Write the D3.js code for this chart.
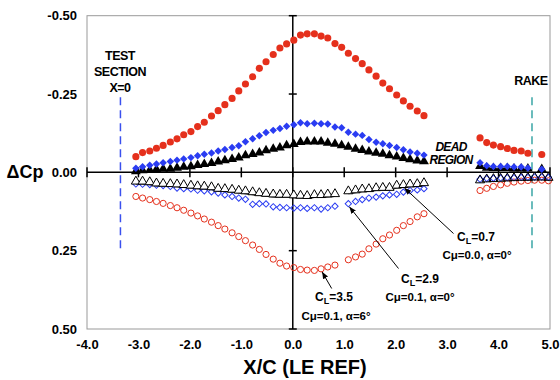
<!DOCTYPE html>
<html>
<head>
<meta charset="utf-8">
<script src="https://cdn.jsdelivr.net/npm/d3@7/dist/d3.min.js"></script>
<style>
  body { margin: 0; background: #fff; }
  text { font-family: "Liberation Sans", Arial, sans-serif; font-weight: bold; fill: #000; }
</style>
</head>
<body>
<div id="chart"></div>
<script>
// x stations (X/C, LE ref)
var xUpper = [-3.05, -2.92, -2.78, -2.65, -2.52, -2.38, -2.25, -2.12, -1.98, -1.85, -1.72, -1.58, -1.45, -1.32, -1.18, -1.05, -0.92, -0.78, -0.65, -0.52, -0.38, -0.25, -0.12, 0.02, 0.15, 0.28, 0.42, 0.55, 0.68, 0.82, 0.95, 1.08, 1.22, 1.35, 1.48, 1.62, 1.75, 1.88, 2.02, 2.15, 2.28, 2.42, 2.55];
var xLowerA = [-3.05, -2.92, -2.78, -2.65, -2.52, -2.38, -2.25, -2.12, -1.98, -1.85, -1.72, -1.58, -1.45, -1.32, -1.18, -1.05, -0.92, -0.78, -0.65, -0.52, -0.38, -0.25, -0.12, 0.02, 0.15, 0.28, 0.42, 0.55, 0.68, 0.82];
var xLowerB = [1.08, 1.22, 1.35, 1.48, 1.62, 1.75, 1.88, 2.02, 2.15, 2.28, 2.42, 2.55];
var xRakeUpper = [3.64, 3.77, 3.90, 4.04, 4.17, 4.30, 4.44, 4.57, 4.84];
var xRakeLower = [3.64, 3.77, 3.90, 4.04, 4.17, 4.30, 4.44, 4.57, 4.70, 4.84, 4.97];

// CL=3.5 (red)
var redUpper = [-0.050, -0.063, -0.068, -0.077, -0.086, -0.097, -0.107, -0.120, -0.130, -0.146, -0.160, -0.180, -0.197, -0.216, -0.236, -0.260, -0.282, -0.305, -0.332, -0.353, -0.376, -0.397, -0.410, -0.422, -0.438, -0.442, -0.442, -0.435, -0.429, -0.411, -0.399, -0.380, -0.363, -0.347, -0.327, -0.307, -0.285, -0.267, -0.247, -0.228, -0.211, -0.196, -0.181];
var redLowerA = [0.077, 0.082, 0.087, 0.093, 0.099, 0.106, 0.113, 0.121, 0.130, 0.139, 0.149, 0.159, 0.170, 0.181, 0.193, 0.205, 0.218, 0.232, 0.246, 0.262, 0.277, 0.290, 0.299, 0.304, 0.310, 0.312, 0.313, 0.308, 0.302, 0.296];
var redLowerB = [0.279, 0.270, 0.261, 0.244, 0.229, 0.212, 0.200, 0.185, 0.170, 0.157, 0.142, 0.132];
var redRakeUpper = [-0.110, -0.095, -0.087, -0.082, -0.076, -0.070, -0.068, -0.061, -0.057];
var redRakeLower = [0.058, 0.051, 0.045, 0.040, 0.035, 0.031, 0.028, 0.026, 0.025, 0.025, 0.027];

// CL=2.9 (blue)
var blueUpper = [-0.013, -0.018, -0.023, -0.027, -0.031, -0.035, -0.039, -0.043, -0.047, -0.053, -0.058, -0.062, -0.068, -0.073, -0.079, -0.085, -0.098, -0.107, -0.117, -0.127, -0.134, -0.140, -0.147, -0.152, -0.158, -0.155, -0.157, -0.155, -0.154, -0.145, -0.142, -0.128, -0.122, -0.118, -0.105, -0.096, -0.091, -0.086, -0.079, -0.072, -0.065, -0.061, -0.055];
var blueLowerA = [0.037, 0.038, 0.039, 0.041, 0.042, 0.045, 0.050, 0.052, 0.053, 0.057, 0.059, 0.062, 0.066, 0.072, 0.077, 0.082, 0.086, 0.102, 0.100, 0.101, 0.110, 0.112, 0.113, 0.114, 0.113, 0.115, 0.113, 0.117, 0.113, 0.108];
var blueLowerB = [0.100, 0.093, 0.087, 0.082, 0.079, 0.075, 0.072, 0.070, 0.063, 0.058, 0.056, 0.052];
var blueRakeUpper = [-0.031, -0.021, -0.019, -0.019, -0.019, -0.017, -0.017, -0.014, -0.010];
var blueRakeLower = [0.022, 0.020, 0.019, 0.018, 0.017, 0.017, 0.016, 0.016, 0.015, 0.015, 0.016];

// CL=0.7 (black)
var blackUpper = [-0.003, -0.006, -0.007, -0.009, -0.011, -0.011, -0.014, -0.017, -0.019, -0.023, -0.026, -0.029, -0.034, -0.038, -0.042, -0.047, -0.054, -0.058, -0.063, -0.070, -0.075, -0.079, -0.086, -0.090, -0.096, -0.098, -0.098, -0.098, -0.094, -0.091, -0.086, -0.081, -0.075, -0.071, -0.066, -0.062, -0.059, -0.054, -0.050, -0.045, -0.041, -0.037, -0.035];
var blackLowerA = [0.029, 0.029, 0.031, 0.035, 0.036, 0.037, 0.038, 0.040, 0.042, 0.044, 0.045, 0.047, 0.052, 0.053, 0.055, 0.058, 0.060, 0.063, 0.066, 0.068, 0.070, 0.071, 0.071, 0.073, 0.074, 0.075, 0.072, 0.072, 0.070, 0.069];
var blackLowerB = [0.060, 0.057, 0.054, 0.053, 0.050, 0.049, 0.049, 0.042, 0.040, 0.038, 0.037, 0.034];
var blackRakeUpper = [-0.020, -0.014, -0.013, -0.013, -0.013, -0.012, -0.012, -0.012, -0.010];
var blackRakeLower = [0.025, 0.022, 0.021, 0.020, 0.019, 0.018, 0.017, 0.017, 0.016, 0.016, 0.017];

var xTicks = [-4, -3, -2, -1, 0, 1, 2, 3, 4, 5];
var yTicks = [-0.5, -0.25, 0, 0.25, 0.5];
var testSectionX = -3.35, rakeX = 4.65;

var RED = "#e5301c", BLUE = "#2a3cf2";

var dim = { width: 560, height: 380, left: 87, top: 15.7, right: 550, bottom: 329 };

var x = d3.scaleLinear().domain([-4, 5]).range([dim.left, dim.right]);
var y = d3.scaleLinear().domain([-0.5, 0.5]).range([dim.top, dim.bottom]);

var svg = d3.select("#chart").append("svg")
    .attr("width", dim.width)
    .attr("height", dim.height);

// frame
svg.append("rect")
    .attr("x", dim.left).attr("y", dim.top)
    .attr("width", dim.right - dim.left).attr("height", dim.bottom - dim.top)
    .attr("fill", "none").attr("stroke", "#999").attr("stroke-width", 1);

// plain hyphen for negatives, like the original
function fmt(spec) {
  var f = d3.format(spec);
  return function(d) { return f(d).replace("\u2212", "-"); };
}

// tick labels, outside the frame
var yAxis = d3.axisLeft(y).tickValues(yTicks).tickSize(0).tickPadding(10).tickFormat(fmt(".2f"));
svg.append("g")
    .attr("transform", "translate(" + dim.left + ",0)")
    .call(yAxis)
    .call(function(g) { g.select(".domain").remove(); })
    .selectAll("text")
    .style("font-size", "13px").style("font-family", "Liberation Sans, Arial, sans-serif").style("font-weight", "bold");

var xAxis = d3.axisBottom(x).tickValues(xTicks).tickSize(0).tickPadding(11).tickFormat(fmt(".1f"));
svg.append("g")
    .attr("transform", "translate(0," + dim.bottom + ")")
    .call(xAxis)
    .call(function(g) { g.select(".domain").remove(); })
    .selectAll("text")
    .style("font-size", "13px").style("font-family", "Liberation Sans, Arial, sans-serif").style("font-weight", "bold");

// zero axes with cross ticks
svg.append("line")
    .attr("x1", dim.left).attr("x2", dim.right)
    .attr("y1", y(0)).attr("y2", y(0))
    .attr("stroke", "#000").attr("stroke-width", 1.5);
svg.append("line")
    .attr("x1", x(0)).attr("x2", x(0))
    .attr("y1", dim.top).attr("y2", dim.bottom)
    .attr("stroke", "#000").attr("stroke-width", 1.5);
svg.append("g").selectAll("line").data(xTicks).enter().append("line")
    .attr("x1", function(d) { return x(d); }).attr("x2", function(d) { return x(d); })
    .attr("y1", y(0) - 5).attr("y2", y(0) + 5)
    .attr("stroke", "#000").attr("stroke-width", 1.5);
svg.append("g").selectAll("line").data(yTicks.filter(function(d) { return d !== 0; })).enter().append("line")
    .attr("x1", x(0) - 4).attr("x2", x(0) + 4)
    .attr("y1", function(d) { return y(d); }).attr("y2", function(d) { return y(d); })
    .attr("stroke", "#000").attr("stroke-width", 1.5);

// test section and rake markers
svg.append("line")
    .attr("x1", x(testSectionX)).attr("x2", x(testSectionX))
    .attr("y1", y(-0.24)).attr("y2", y(0.25))
    .attr("stroke", "#3a50ee").attr("stroke-width", 1.5).attr("stroke-dasharray", "8,5");
svg.append("line")
    .attr("x1", x(rakeX)).attr("x2", x(rakeX))
    .attr("y1", y(-0.24)).attr("y2", y(0.25))
    .attr("stroke", "#3aa6a6").attr("stroke-width", 1.5).attr("stroke-dasharray", "8,5");

function zip(xs, ys) { return xs.map(function(v, i) { return [v, ys[i]]; }); }

// line under the open triangles
var line = d3.line().x(function(d) { return x(d[0]); }).y(function(d) { return y(d[1]) + 2.5; });
[zip(xLowerA, blackLowerA), zip(xLowerB, blackLowerB)].forEach(function(seg) {
  svg.append("path").datum(seg)
      .attr("d", line).attr("fill", "none").attr("stroke", "#000").attr("stroke-width", 1.2);
});

var series = [
  { x: xLowerA, y: redLowerA, type: d3.symbolCircle, size: 30, fill: "none", stroke: RED },
  { x: xLowerB, y: redLowerB, type: d3.symbolCircle, size: 30, fill: "none", stroke: RED },
  { x: xRakeLower, y: redRakeLower, type: d3.symbolCircle, size: 30, fill: "none", stroke: RED },
  { x: xLowerA, y: blueLowerA, type: d3.symbolSquare, size: 20, rot: 45, fill: "none", stroke: BLUE },
  { x: xLowerB, y: blueLowerB, type: d3.symbolSquare, size: 20, rot: 45, fill: "none", stroke: BLUE },
  { x: xRakeLower, y: blueRakeLower, type: d3.symbolSquare, size: 20, rot: 45, fill: "none", stroke: BLUE },
  { x: xLowerA, y: blackLowerA, type: d3.symbolTriangle, size: 36, fill: "#fff", stroke: "#000" },
  { x: xLowerB, y: blackLowerB, type: d3.symbolTriangle, size: 36, fill: "#fff", stroke: "#000" },
  { x: xRakeLower, y: blackRakeLower, type: d3.symbolTriangle, size: 36, fill: "none", stroke: "#000" },
  { x: xUpper, y: blackUpper, type: d3.symbolTriangle, size: 42, fill: "#000", stroke: "none" },
  { x: xRakeUpper, y: blackRakeUpper, type: d3.symbolTriangle, size: 42, fill: "#000", stroke: "none" },
  { x: xUpper, y: blueUpper, type: d3.symbolSquare, size: 28, rot: 45, fill: BLUE, stroke: "none" },
  { x: xRakeUpper, y: blueRakeUpper, type: d3.symbolSquare, size: 28, rot: 45, fill: BLUE, stroke: "none" },
  { x: xUpper, y: redUpper, type: d3.symbolCircle, size: 40, fill: RED, stroke: "none" },
  { x: xRakeUpper, y: redRakeUpper, type: d3.symbolCircle, size: 40, fill: RED, stroke: "none" }
];

series.forEach(function(s) {
  svg.append("g").selectAll("path").data(zip(s.x, s.y)).enter().append("path")
      .attr("transform", function(d) {
        return "translate(" + x(d[0]) + "," + y(d[1]) + ")" + (s.rot ? " rotate(" + s.rot + ")" : "");
      })
      .attr("d", d3.symbol().type(s.type).size(s.size))
      .attr("fill", s.fill)
      .attr("stroke", s.stroke)
      .attr("stroke-width", 1);
});

// labels
function label(tx, ty, str, size, anchor, italic) {
  return svg.append("text")
      .attr("x", tx).attr("y", ty)
      .attr("text-anchor", anchor || "middle")
      .style("font-size", size + "px")
      .style("font-style", italic ? "italic" : "normal")
      .text(str);
}
label(120, 60, "TEST", 12.5).style("letter-spacing", "-0.5px");
label(120, 76, "SECTION", 12.5).style("letter-spacing", "-0.5px");
label(120, 92, "X=0", 12.5).style("letter-spacing", "-0.5px");
label(531, 85, "RAKE", 12.5).style("letter-spacing", "-0.5px");
label(451, 151, "DEAD", 12, "middle", true).style("letter-spacing", "-0.7px");
label(451, 164, "REGION", 12, "middle", true).style("letter-spacing", "-0.7px");
label(25, 178, "\u0394Cp", 18);
label(305, 374, "X/C (LE REF)", 20);

function clLabel(cx, cy, val) {
  var t = svg.append("text").attr("x", cx).attr("y", cy).attr("text-anchor", "middle").style("font-size", "12px");
  t.append("tspan").text("C");
  t.append("tspan").attr("dy", 3).style("font-size", "9px").text("L");
  t.append("tspan").attr("dy", -3).text("=" + val);
}
clLabel(334, 301, "3.5");
label(336, 320, "C\u03bc=0.1, \u03b1=6\u00b0", 11.5);
clLabel(420, 283, "2.9");
label(420, 301, "C\u03bc=0.1, \u03b1=0\u00b0", 11.5);
clLabel(476, 241, "0.7");
label(477, 259, "C\u03bc=0.0, \u03b1=0\u00b0", 11.5);

// leader arrows
svg.append("defs").append("marker")
    .attr("id", "arr").attr("viewBox", "0 0 10 10").attr("refX", 10).attr("refY", 5)
    .attr("markerWidth", 7).attr("markerHeight", 7).attr("orient", "auto")
    .append("path").attr("d", "M0,1L10,5L0,9z").attr("fill", "#000");
var arrows = [
  { from: [331.7, 288.5], to: [0.55, redLowerA[27]] },
  { from: [398.5, 268.5], to: [1.08, blueLowerB[0]] },
  { from: [453.5, 233.5], to: [2.15, blackLowerB[8]] }
];
arrows.forEach(function(a) {
  svg.append("line")
      .attr("x1", a.from[0]).attr("y1", a.from[1])
      .attr("x2", x(a.to[0]) + 1).attr("y2", y(a.to[1]) + 3)
      .attr("stroke", "#000").attr("stroke-width", 1)
      .attr("marker-end", "url(#arr)");
});
</script>
</body>
</html>
